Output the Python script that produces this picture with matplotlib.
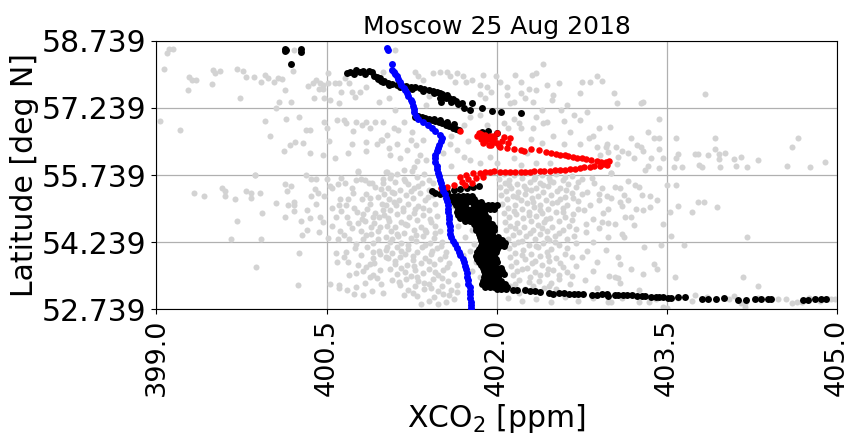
import matplotlib
matplotlib.use("Agg")
import matplotlib.pyplot as plt
import numpy as np

# ---- data ----
title = "Moscow 25 Aug 2018"
x_ticks = [399.0, 400.5, 402.0, 403.5, 405.0]
y_ticks = [52.739, 54.239, 55.739, 57.239, 58.739]

# all soundings in the region (grey)
gray_points = [
    # top left
    (399.11, 58.55), (399.15, 58.55), (399.09, 58.46), (399.07, 58.11), (399.29, 57.92),
    (399.35, 57.86), (399.31, 57.86), (399.28, 57.64), (399.49, 57.77), (399.50, 58.08),
    (399.52, 58.01), (399.56, 58.07), (399.71, 58.10), (399.76, 58.07), (399.79, 57.92),
    (399.86, 57.92), (399.92, 57.82), (399.96, 57.97), (399.98, 57.90), (400.04, 57.82),
    (400.07, 57.90), (400.11, 57.88), (400.13, 57.64), (400.20, 58.06), (400.21, 58.53),
    (399.74, 57.47), (400.08, 57.38), (400.19, 57.38), (400.05, 57.23), (400.34, 57.73),
    (400.38, 57.80), (400.41, 57.86), (400.44, 57.80), (400.43, 57.65), (400.47, 57.75),
    (400.47, 57.67), (400.51, 58.01), (400.51, 57.79), (400.53, 57.41), (400.39, 57.45),
    (400.48, 57.47), (400.57, 57.79), (400.61, 57.80), (400.61, 57.35), (400.63, 57.60),
    (400.66, 57.90), (400.70, 57.79), (400.75, 57.49), (400.79, 57.60), (400.72, 57.60),
    (400.85, 57.71), (400.96, 57.36), (399.03, 56.94), (399.21, 56.74), (399.96, 56.94),
    (400.00, 56.60), (400.14, 57.00), (400.26, 57.03), (400.32, 56.74), (400.35, 56.74),
    (400.29, 56.46), (400.22, 56.47), (400.18, 56.41), (400.12, 56.27), (400.35, 56.24),
    (400.48, 56.93), (400.50, 56.78), (400.52, 56.50), (400.47, 56.18), (400.57, 56.11),
    (400.59, 56.97), (400.65, 56.97), (400.67, 56.91), (400.76, 56.93), (400.81, 56.86),
    (400.85, 56.93), (400.93, 56.93), (400.73, 56.73), (400.88, 56.78), (400.72, 56.44),
    (400.69, 56.24), (400.85, 56.47), (400.94, 56.44), (400.98, 56.52), (400.85, 56.27),
    (400.78, 55.83), (399.87, 55.75),
    # top middle
    (401.10, 58.53), (401.00, 58.05), (401.28, 58.05), (401.31, 57.94), (401.35, 57.86),
    (401.44, 58.01), (401.50, 58.05), (401.56, 58.05), (401.59, 57.94), (401.65, 58.01),
    (401.63, 57.82), (401.73, 57.82), (401.78, 57.86), (401.85, 57.75), (401.91, 57.71),
    (401.88, 57.97), (401.99, 57.94), (402.03, 57.82), (402.09, 57.71), (402.16, 57.97),
    (402.21, 57.82), (402.31, 57.97), (402.35, 58.01), (402.41, 58.22), (402.28, 57.67),
    (402.35, 57.64), (402.44, 57.75), (402.50, 57.53), (402.49, 57.41), (402.32, 57.38),
    (402.15, 57.38), (402.21, 57.56), (402.09, 57.53), (402.12, 57.34), (402.73, 57.56),
    (402.75, 57.82), (402.82, 57.82), (402.93, 57.85), (402.88, 57.95), (402.57, 57.19),
    (402.68, 57.08), (402.73, 56.97), (402.59, 56.95), (402.44, 56.93), (402.35, 57.04),
    (402.32, 56.78), (402.15, 57.00), (402.21, 56.78), (402.06, 56.89), (401.91, 56.86),
    (401.85, 57.08), (401.76, 57.04), (401.71, 56.86), (401.00, 56.93), (401.09, 56.80),
    (401.13, 56.74), (401.18, 56.93), (401.03, 56.63), (400.99, 56.52), (401.12, 56.44),
    (401.24, 56.52), (401.29, 56.41), (401.35, 56.52), (401.21, 56.30), (401.06, 56.18),
    (401.15, 56.11), (401.32, 56.18), (401.38, 56.07), (401.27, 55.92), (401.18, 55.85),
    (401.03, 55.81), (401.53, 56.22), (401.59, 56.44), (401.65, 56.30), (401.71, 56.15),
    (401.76, 56.07), (401.85, 56.00), (401.94, 56.15), (402.00, 56.00), (402.15, 56.11),
    (402.21, 55.96), (402.27, 56.22), (402.35, 56.00), (402.47, 56.00), (402.59, 56.44),
    (402.73, 56.44), (402.81, 56.56), (402.88, 56.37), (402.91, 56.18), (402.97, 56.44),
    (402.56, 55.85), (402.41, 56.89),
    (401.70, 57.95), (401.95, 57.60), (402.25, 57.45), (402.55, 57.80), (402.62, 57.30),
    (402.40, 57.20), (401.90, 57.45), (402.80, 57.15), (402.90, 56.80), (402.65, 56.70),
    (402.50, 56.60), (402.30, 56.55), (402.10, 56.80), (401.75, 56.50), (401.60, 56.60),
    (401.25, 56.70), (401.05, 56.35), (401.30, 56.05), (401.60, 55.95), (402.40, 56.45),
    (402.85, 56.62), (402.98, 56.25), (402.20, 56.90), (401.85, 57.55), (401.40, 57.50),
    (401.38, 57.30), (401.10, 57.20), (401.05, 57.45),
    # top right
    (403.03, 57.58), (403.06, 57.34), (403.27, 57.34), (403.29, 57.37), (403.84, 57.55),
    (403.43, 56.98), (403.00, 56.81), (403.33, 56.69), (403.18, 56.56), (403.39, 56.56),
    (403.43, 56.56), (403.58, 56.56), (403.92, 56.56), (404.66, 56.56), (404.60, 56.36),
    (404.89, 56.03), (404.76, 55.92), (404.56, 55.94), (402.96, 56.37), (403.05, 56.36),
    (403.10, 56.28), (403.16, 56.22), (403.21, 56.13), (403.24, 56.41), (403.27, 56.37),
    (403.29, 56.27), (403.43, 56.31), (403.36, 56.11), (403.47, 56.13), (403.07, 56.15),
    (403.06, 55.98), (403.33, 55.94), (403.31, 55.86), (403.43, 55.89), (403.01, 55.79),
    (403.56, 55.92), (403.58, 56.11), (403.60, 56.21), (403.63, 55.91), (403.75, 56.21),
    (403.77, 56.21), (403.78, 55.96), (403.81, 55.92), (403.86, 56.18), (403.92, 56.33),
    (403.96, 56.20), (403.96, 56.09), (404.01, 56.22), (403.97, 55.92), (404.09, 56.09),
    (404.15, 56.15), (404.11, 55.95), (404.21, 55.92), (404.30, 56.07),
    # lower left
    (399.33, 55.33), (399.42, 55.27), (399.58, 55.46), (399.60, 55.39), (399.60, 55.27),
    (399.69, 55.20), (399.79, 55.38), (399.83, 55.33), (399.83, 55.22), (399.91, 55.33),
    (399.87, 55.73), (399.71, 54.72), (399.93, 54.88), (399.66, 54.30), (399.92, 54.30),
    (399.88, 53.68), (400.13, 55.54), (400.19, 55.49), (400.15, 55.39), (400.05, 55.11),
    (400.16, 55.07), (400.21, 55.14), (400.21, 55.07), (400.21, 54.94), (400.13, 54.81),
    (400.27, 54.71), (400.33, 54.96), (400.35, 54.77), (400.33, 54.51), (400.28, 54.40),
    (400.32, 55.73), (400.36, 55.64), (400.41, 55.64), (400.40, 55.42), (400.42, 55.33),
    (400.36, 55.26), (400.41, 55.09), (400.48, 55.27), (400.44, 54.79), (400.47, 54.70),
    (400.43, 54.47), (400.51, 54.34), (400.50, 55.64), (400.53, 55.49), (400.60, 55.53),
    (400.63, 55.67), (400.62, 55.20), (400.61, 55.08), (400.67, 55.08), (400.58, 54.81),
    (400.70, 54.67), (400.68, 54.79), (400.60, 54.32), (400.65, 54.40), (400.73, 55.33),
    (400.77, 54.92), (400.78, 54.67), (400.81, 54.75), (400.84, 54.72), (400.76, 54.20),
    (400.76, 55.63), (400.80, 55.64), (400.84, 55.63), (400.87, 55.55), (400.90, 55.57),
    (400.85, 55.31), (400.88, 55.22), (400.81, 55.20), (400.82, 54.86), (400.88, 55.09),
    (400.91, 54.79), (400.92, 54.66), (400.89, 54.58), (400.85, 54.40), (400.89, 54.43),
    (400.91, 54.21), (400.96, 54.81), (400.97, 54.58), (401.00, 54.96), (400.99, 55.09),
    (400.98, 55.42), (401.00, 55.66), (400.78, 55.81), (400.58, 53.99), (400.67, 54.02),
    (400.59, 53.79), (400.69, 53.80), (400.26, 54.00), (400.25, 53.29), (400.53, 53.30),
    (400.61, 53.28), (400.61, 53.21), (400.68, 53.18), (400.76, 53.23), (400.74, 53.09),
    (400.76, 53.54), (400.88, 53.47), (400.94, 53.43), (400.85, 53.69), (400.88, 53.76),
    (400.91, 53.88), (400.91, 54.03), (400.96, 54.05), (401.02, 53.90), (401.02, 54.06),
    (400.91, 53.51),
    (400.55, 55.45), (400.66, 55.57), (400.72, 55.44), (400.93, 55.47), (400.69, 55.21),
    (400.95, 55.25), (400.74, 55.00), (400.86, 54.98), (400.63, 54.93), (400.55, 55.00),
    (400.93, 54.90), (400.72, 54.55), (400.80, 54.48), (400.95, 54.48), (400.62, 54.48),
    (400.55, 54.60), (400.70, 54.30), (400.82, 54.30), (400.95, 54.30), (400.75, 54.10),
    (400.86, 54.12), (400.97, 53.98), (400.80, 53.95), (400.65, 53.90), (400.92, 53.78),
    (400.78, 53.72), (400.97, 53.62), (400.82, 53.60), (400.70, 53.50), (400.98, 53.30),
    (400.84, 53.33), (400.90, 53.15), (401.00, 53.10), (400.82, 53.05),
    # dense part left of the blue track
    (401.02, 55.80), (401.12, 55.77), (401.25, 55.82), (401.36, 55.76),
    (401.06, 55.68), (401.18, 55.65), (401.30, 55.70), (401.40, 55.63),
    (401.00, 55.55), (401.10, 55.58), (401.22, 55.53), (401.34, 55.57),
    (401.04, 55.44), (401.15, 55.41), (401.27, 55.46), (401.40, 55.40),
    (401.01, 55.31), (401.09, 55.34), (401.20, 55.29), (401.32, 55.33), (401.44, 55.30),
    (401.05, 55.20), (401.14, 55.17), (401.26, 55.22), (401.37, 55.18),
    (401.02, 55.08), (401.11, 55.06), (401.22, 55.10), (401.31, 55.05), (401.46, 55.09),
    (401.06, 54.96), (401.17, 54.93), (401.28, 54.98), (401.40, 54.95),
    (401.01, 54.84), (401.12, 54.86), (401.23, 54.81), (401.35, 54.85), (401.47, 54.82),
    (401.05, 54.72), (401.16, 54.70), (401.30, 54.74), (401.42, 54.69),
    (401.03, 54.60), (401.10, 54.57), (401.21, 54.62), (401.33, 54.58), (401.46, 54.61),
    (401.07, 54.48), (401.18, 54.45), (401.27, 54.50), (401.38, 54.46), (401.50, 54.49),
    (401.02, 54.36), (401.13, 54.38), (401.24, 54.33), (401.35, 54.37), (401.45, 54.34),
    (401.06, 54.24), (401.16, 54.21), (401.29, 54.26), (401.41, 54.22), (401.52, 54.25),
    (401.03, 54.12), (401.12, 54.14), (401.22, 54.09), (401.34, 54.13), (401.47, 54.10),
    (401.08, 54.00), (401.19, 53.97), (401.30, 54.02), (401.42, 53.98), (401.55, 54.01),
    (401.04, 53.88), (401.15, 53.90), (401.26, 53.85), (401.37, 53.89), (401.50, 53.86),
    (401.10, 53.76), (401.21, 53.73), (401.33, 53.78), (401.45, 53.74), (401.58, 53.77),
    (401.06, 53.64), (401.16, 53.66), (401.28, 53.61), (401.40, 53.65), (401.53, 53.62),
    (401.12, 53.52), (401.24, 53.49), (401.35, 53.54), (401.48, 53.50), (401.62, 53.53),
    (401.08, 53.40), (401.20, 53.42), (401.31, 53.37), (401.44, 53.41), (401.57, 53.38),
    (401.15, 53.28), (401.28, 53.25), (401.40, 53.30), (401.52, 53.26), (401.65, 53.29),
    (401.22, 53.16), (401.36, 53.19), (401.48, 53.14), (401.60, 53.17),
    (401.30, 53.04), (401.45, 53.01), (401.58, 53.06), (401.40, 52.92), (401.55, 52.90),
    (401.07, 55.73), (401.19, 55.60), (401.31, 55.49), (401.44, 55.55), (401.08, 55.37),
    (401.24, 55.38), (401.39, 55.25), (401.17, 55.01), (401.09, 55.13), (401.35, 55.00),
    (401.27, 54.88), (401.04, 54.78), (401.41, 54.76), (401.19, 54.65), (401.37, 54.52),
    (401.12, 54.42), (401.29, 54.40), (401.46, 54.44), (401.08, 54.30), (401.22, 54.17),
    (401.37, 54.18), (401.51, 54.15), (401.16, 54.05), (401.43, 54.05), (401.26, 53.93),
    (401.10, 53.82), (401.40, 53.82), (401.54, 53.93), (401.27, 53.70), (401.19, 53.57),
    (401.46, 53.58), (401.56, 53.69), (401.30, 53.45), (401.14, 53.34), (401.52, 53.44),
    (401.36, 53.33), (401.26, 53.11), (401.42, 53.22), (401.53, 53.09), (401.65, 53.12),
    (401.62, 52.97), (401.48, 52.85), (401.33, 52.86), (401.18, 53.05),
    # between blue and black
    (401.62, 55.05), (401.75, 54.95), (401.70, 54.80), (401.66, 54.60), (401.78, 54.52),
    (401.72, 54.35), (401.80, 54.20), (401.76, 54.05), (401.70, 53.95), (401.82, 53.80),
    (401.78, 53.60), (401.85, 53.45), (401.68, 55.20),
    # dense part right of the black track
    (402.06, 55.76), (402.15, 55.73), (402.27, 55.78), (402.40, 55.74), (402.52, 55.77), (402.66, 55.72),
    (402.02, 55.66), (402.11, 55.63), (402.22, 55.68), (402.33, 55.64), (402.46, 55.67), (402.58, 55.62),
    (402.75, 55.66), (402.07, 55.57), (402.18, 55.54), (402.29, 55.59), (402.38, 55.55), (402.50, 55.58),
    (402.63, 55.53), (402.86, 55.57), (402.03, 55.48), (402.13, 55.45), (402.24, 55.50), (402.35, 55.46),
    (402.45, 55.49), (402.56, 55.44), (402.70, 55.47), (402.08, 55.38), (402.19, 55.35), (402.30, 55.40),
    (402.41, 55.36), (402.53, 55.39), (402.66, 55.34), (402.80, 55.37), (402.04, 55.29), (402.14, 55.26),
    (402.25, 55.31), (402.36, 55.27), (402.48, 55.30), (402.60, 55.25), (402.09, 55.20), (402.21, 55.17),
    (402.31, 55.22), (402.43, 55.18), (402.56, 55.21), (402.72, 55.16), (402.90, 55.19), (402.05, 55.10),
    (402.16, 55.07), (402.27, 55.12), (402.38, 55.08), (402.49, 55.11), (402.62, 55.06), (402.10, 55.00),
    (402.22, 54.97), (402.33, 55.02), (402.45, 54.98), (402.58, 55.01), (402.77, 54.96), (402.06, 54.90),
    (402.17, 54.87), (402.28, 54.92), (402.40, 54.88), (402.52, 54.91), (402.67, 54.86), (402.11, 54.80),
    (402.23, 54.77), (402.35, 54.82), (402.47, 54.78), (402.60, 54.81), (402.85, 54.76), (402.07, 54.70),
    (402.18, 54.67), (402.30, 54.72), (402.42, 54.68), (402.55, 54.71), (402.12, 54.60), (402.24, 54.57),
    (402.36, 54.62), (402.49, 54.58), (402.64, 54.61), (402.08, 54.50), (402.20, 54.47), (402.32, 54.52),
    (402.44, 54.48), (402.58, 54.51), (402.79, 54.46), (402.14, 54.40), (402.26, 54.37), (402.38, 54.42),
    (402.51, 54.38), (402.10, 54.30), (402.22, 54.27), (402.34, 54.32), (402.46, 54.28), (402.62, 54.31),
    (402.15, 54.20), (402.28, 54.17), (402.41, 54.22), (402.55, 54.18), (402.70, 54.21), (402.11, 54.10),
    (402.23, 54.07), (402.36, 54.12), (402.48, 54.08), (402.16, 54.00), (402.30, 53.97), (402.44, 54.02),
    (402.60, 53.98), (402.12, 53.90), (402.25, 53.87), (402.38, 53.92), (402.52, 53.88), (402.75, 53.91),
    (402.17, 53.80), (402.31, 53.77), (402.46, 53.82), (402.13, 53.70), (402.27, 53.67), (402.40, 53.72),
    (402.58, 53.68), (402.18, 53.60), (402.34, 53.57), (402.50, 53.62), (402.14, 53.50), (402.29, 53.47),
    (402.44, 53.52), (402.66, 53.48), (402.20, 53.40), (402.37, 53.37), (402.55, 53.42), (402.16, 53.30),
    (402.32, 53.27), (402.48, 53.32), (402.25, 53.20), (402.42, 53.22),
    (402.20, 55.80), (402.34, 55.70), (402.47, 55.60), (402.60, 55.70), (402.72, 55.58), (402.84, 55.68),
    (402.93, 55.45), (402.11, 55.52), (402.26, 55.43), (402.41, 55.52), (402.61, 55.40), (402.75, 55.31),
    (402.90, 55.32), (402.18, 55.25), (402.32, 55.14), (402.53, 55.14), (402.67, 55.22), (402.82, 55.08),
    (402.15, 54.94), (402.38, 54.95), (402.58, 54.92), (402.72, 54.98), (402.94, 54.88), (402.28, 54.84),
    (402.43, 54.75), (402.66, 54.74), (402.79, 54.64), (402.93, 54.70), (402.16, 54.55), (402.40, 54.55),
    (402.55, 54.44), (402.70, 54.54), (402.90, 54.55), (402.29, 54.44), (402.44, 54.33), (402.68, 54.38),
    (402.85, 54.25), (402.19, 54.25), (402.35, 54.16), (402.51, 54.25), (402.62, 54.10), (402.80, 54.05),
    (402.22, 53.95), (402.45, 53.93), (402.66, 53.90), (402.88, 53.80), (402.34, 53.82), (402.56, 53.78),
    (402.70, 53.70), (402.22, 53.65), (402.45, 53.64), (402.62, 53.58), (402.85, 53.60), (402.38, 53.50),
    (402.55, 53.50), (402.78, 53.40), (402.28, 53.36), (402.46, 53.25), (402.65, 53.30), (402.20, 53.10),
    (402.52, 53.20), (402.88, 53.22), (402.12, 53.25),
    # along the bottom
    (402.10, 53.00), (402.35, 52.98), (402.60, 53.01), (402.85, 52.99), (403.10, 53.00), (403.40, 52.97),
    (403.60, 52.99), (403.85, 53.01), (404.05, 52.98), (404.30, 53.00), (404.55, 52.97), (404.75, 53.00),
    (404.92, 52.98), (402.22, 52.92), (402.48, 52.90), (402.72, 52.93), (402.98, 52.91), (403.25, 52.90),
    (403.72, 52.92), (404.15, 52.89), (404.65, 52.91), (404.85, 52.93),
    # lower right
    (403.01, 55.78), (403.04, 55.48), (403.09, 55.44), (403.16, 55.61), (403.22, 55.52), (403.25, 55.48),
    (402.97, 55.26), (403.01, 55.22), (403.09, 55.14), (403.12, 55.29), (403.16, 55.18), (403.28, 55.29),
    (403.35, 55.27), (403.41, 55.18), (403.10, 55.05), (402.98, 54.97), (403.23, 54.97), (403.29, 54.96),
    (403.35, 55.03), (403.13, 54.81), (403.18, 54.81), (402.98, 54.66), (403.04, 54.64), (403.21, 54.62),
    (403.47, 54.64), (403.10, 54.43), (403.12, 54.36), (402.98, 54.36), (403.50, 55.52), (403.58, 55.52),
    (403.60, 55.05), (403.53, 54.92), (403.72, 54.92), (403.77, 55.14), (403.83, 55.13), (403.94, 55.03),
    (404.21, 54.35), (403.54, 54.38), (403.45, 54.17), (403.65, 54.18), (403.30, 54.12), (402.96, 54.06),
    (403.07, 53.91), (403.09, 53.76), (403.18, 53.65), (403.39, 53.74), (403.41, 53.64), (402.99, 53.48),
    (403.04, 53.47), (403.07, 53.43), (403.09, 53.32), (403.29, 53.52), (403.57, 53.47), (404.17, 53.47),
    (404.30, 53.27), (403.25, 53.17), (403.75, 53.06), (404.09, 53.03), (404.19, 52.87), (404.19, 52.80),
    (404.48, 52.98), (404.60, 52.89), (404.69, 52.91), (404.90, 52.98), (404.95, 52.96), (404.98, 52.98),
    (403.47, 52.80), (403.01, 52.91), (403.34, 52.91), (403.50, 52.76),
]

# selected soundings (black)
black_points = [
    (400.13, 58.56), (400.13, 58.50), (400.14, 58.53), (400.27, 58.55), (400.27, 58.49), (400.19, 58.22),
    (400.68, 58.01), (400.71, 58.05), (400.74, 58.00), (400.76, 58.08), (400.79, 58.03), (400.82, 58.06),
    (400.84, 58.00), (400.87, 58.07), (400.90, 58.04), (400.92, 57.95), (400.95, 57.88), (400.98, 57.85),
    (401.01, 57.84), (400.94, 57.92), (400.97, 57.90),
    (401.00, 57.82), (401.04, 57.80), (401.08, 57.78), (401.12, 57.76), (401.16, 57.74), (401.20, 57.73),
    (401.24, 57.71), (401.28, 57.70), (401.32, 57.68), (401.36, 57.66), (401.40, 57.64), (401.44, 57.61),
    (401.47, 57.60), (401.50, 57.58), (401.52, 57.55), (401.50, 57.45), (401.53, 57.50), (401.56, 57.52),
    (401.58, 57.47), (401.61, 57.44), (401.64, 57.40), (401.51, 57.38), (401.69, 57.34), (401.71, 57.23),
    (401.78, 57.34), (401.76, 57.20), (401.87, 57.23), (401.96, 57.18), (402.04, 57.14), (402.21, 57.13),
    (401.05, 57.75), (401.15, 57.70), (401.25, 57.66), (401.35, 57.62), (401.45, 57.57), (401.55, 57.45),
    (401.60, 57.38), (401.66, 57.32),
    (401.28, 57.04), (401.31, 57.05), (401.34, 57.03), (401.37, 57.01), (401.40, 56.99), (401.43, 56.97),
    (401.46, 56.95), (401.49, 56.92), (401.52, 56.89), (401.55, 56.86), (401.58, 56.83), (401.61, 56.80),
    (401.64, 56.77), (401.67, 56.74), (401.45, 57.00), (401.50, 56.97), (401.56, 56.93), (401.62, 56.88),
    (401.87, 56.71), (401.92, 56.72), (402.00, 56.67),
    (401.43, 55.39), (401.46, 55.33), (401.50, 55.32), (401.56, 55.37), (401.62, 55.40), (401.68, 55.42),
    (401.74, 55.44), (401.79, 55.48), (401.84, 55.49),
    (401.58, 55.27), (401.62, 55.27), (401.66, 55.27), (401.70, 55.27), (401.74, 55.27), (401.78, 55.27),
    (401.60, 55.20), (401.64, 55.20), (401.68, 55.20), (401.72, 55.20), (401.76, 55.20), (401.80, 55.20),
    (401.62, 55.13), (401.66, 55.13), (401.70, 55.13), (401.74, 55.13), (401.78, 55.13), (401.82, 55.13),
    (401.86, 55.13),
    (401.64, 55.06), (401.68, 55.06), (401.72, 55.06), (401.80, 55.06), (401.84, 55.06), (401.88, 55.06),
    (401.92, 55.06), (401.96, 55.06), (402.00, 55.06),
    (401.66, 54.99), (401.70, 54.99), (401.74, 54.99), (401.78, 54.99), (401.82, 54.99), (401.86, 54.99),
    (401.90, 54.99), (401.94, 54.99), (401.98, 54.99),
    (401.65, 54.92), (401.69, 54.92), (401.73, 54.92), (401.77, 54.92), (401.81, 54.92), (401.85, 54.92),
    (401.89, 54.92),
    (401.66, 54.85), (401.70, 54.85), (401.74, 54.85), (401.78, 54.85), (401.82, 54.85), (401.86, 54.85),
    (401.90, 54.85),
    (401.68, 54.78), (401.72, 54.78), (401.76, 54.78), (401.80, 54.78), (401.84, 54.78), (401.88, 54.78),
    (401.92, 54.78),
    (401.72, 54.71), (401.76, 54.71), (401.80, 54.71), (401.84, 54.71), (401.88, 54.71), (401.92, 54.71),
    (401.80, 54.64), (401.84, 54.64), (401.88, 54.64), (401.92, 54.64), (401.96, 54.64),
    (401.82, 54.57), (401.86, 54.57), (401.90, 54.57), (401.94, 54.57), (401.98, 54.57),
    (401.82, 54.50), (401.86, 54.50), (401.90, 54.50), (401.94, 54.50), (401.98, 54.50),
    (401.84, 54.43), (401.88, 54.43), (401.92, 54.43), (401.96, 54.43),
    (401.85, 54.36), (401.89, 54.36), (401.93, 54.36), (401.97, 54.36), (402.01, 54.36),
    (401.86, 54.29), (401.90, 54.29), (401.94, 54.29), (401.98, 54.29), (402.02, 54.29), (402.05, 54.29),
    (401.87, 54.22), (401.91, 54.22), (401.95, 54.22), (401.99, 54.22), (402.03, 54.22), (402.07, 54.22),
    (401.86, 54.15), (401.90, 54.15), (401.94, 54.15), (401.98, 54.15), (402.02, 54.15), (402.06, 54.15),
    (401.84, 54.08), (401.88, 54.08), (401.92, 54.08), (401.96, 54.08), (402.00, 54.08),
    (401.83, 54.01), (401.87, 54.01), (401.91, 54.01), (401.95, 54.01), (401.99, 54.01),
    (401.82, 53.94), (401.86, 53.94), (401.90, 53.94), (401.94, 53.94), (401.98, 53.94),
    (401.83, 53.87), (401.87, 53.87), (401.91, 53.87), (401.95, 53.87), (401.99, 53.87),
    (401.84, 53.80), (401.88, 53.80), (401.92, 53.80), (401.96, 53.80), (402.00, 53.80),
    (401.86, 53.73), (401.90, 53.73), (401.94, 53.73), (401.98, 53.73),
    (401.88, 53.66), (401.92, 53.66), (401.96, 53.66), (402.00, 53.66), (402.04, 53.66),
    (401.89, 53.59), (401.93, 53.59), (401.97, 53.59), (402.01, 53.59), (402.05, 53.59),
    (401.90, 53.52), (401.94, 53.52), (401.98, 53.52), (402.02, 53.52), (402.06, 53.52),
    (401.89, 53.45), (401.93, 53.45), (401.97, 53.45), (402.01, 53.45),
    (401.88, 53.38), (401.92, 53.38), (401.96, 53.38), (402.00, 53.38), (402.04, 53.38),
    (401.87, 53.31), (401.91, 53.31), (401.95, 53.31), (401.99, 53.31), (402.03, 53.31), (402.07, 53.31),
    (401.90, 53.24), (401.94, 53.24), (401.98, 53.24), (402.02, 53.24), (402.06, 53.24), (402.09, 53.24),
    (402.00, 53.19), (402.04, 53.19), (402.08, 53.19),
    # tail to the east
    (402.14, 53.18), (402.18, 53.18), (402.25, 53.16), (402.29, 53.15), (402.34, 53.14), (402.38, 53.13),
    (402.46, 53.10), (402.50, 53.09), (402.55, 53.11), (402.59, 53.11), (402.64, 53.09), (402.68, 53.08),
    (402.72, 53.08), (402.76, 53.08), (402.84, 53.06), (402.88, 53.06), (402.93, 53.07), (402.97, 53.07),
    (402.98, 53.03), (403.04, 53.05), (403.07, 53.06), (403.11, 53.06), (403.15, 53.05), (403.19, 53.06),
    (403.24, 53.04), (403.28, 53.03), (403.31, 53.03), (403.36, 53.02), (403.40, 53.02), (403.43, 53.02),
    (403.47, 53.01), (403.51, 53.00), (403.54, 53.00), (403.60, 53.01), (403.66, 53.02), (403.81, 52.98),
    (403.86, 52.98), (403.93, 52.98), (404.00, 52.99), (404.13, 52.94), (404.20, 52.94), (404.28, 52.96),
    (404.33, 52.96), (404.39, 52.97), (404.42, 52.98), (404.70, 52.94), (404.74, 52.94), (404.81, 52.96),
    (404.86, 52.97), (404.90, 52.98),
]

# selected soundings (red)
red_points = [
    (401.83, 56.62), (401.86, 56.66), (401.88, 56.58), (401.90, 56.64), (401.92, 56.55), (401.94, 56.60),
    (401.96, 56.50), (401.98, 56.56), (402.00, 56.45), (401.95, 56.42), (402.02, 56.38), (401.90, 56.50),
    (401.86, 56.55), (401.84, 56.68), (401.68, 56.72), (401.88, 56.45), (401.93, 56.40), (401.97, 56.62),
    (402.05, 56.50), (402.10, 56.45),
    (402.00, 56.67), (402.06, 56.59), (402.12, 56.57), (401.97, 56.48), (402.03, 56.37), (402.09, 56.35),
    (402.15, 56.33), (402.21, 56.30), (402.24, 56.27), (402.30, 56.31), (402.37, 56.30), (402.43, 56.26),
    (402.48, 56.22), (402.52, 56.21), (402.56, 56.18), (402.60, 56.18), (402.63, 56.17), (402.67, 56.14),
    (402.71, 56.12), (402.75, 56.11), (402.79, 56.09), (402.83, 56.08), (402.88, 56.05), (402.92, 56.04),
    (402.96, 56.03), (402.99, 56.05), (402.97, 55.96), (402.94, 55.98), (402.91, 55.95), (402.86, 55.94),
    (402.82, 55.92), (402.77, 55.91), (402.73, 55.90), (402.69, 55.88), (402.65, 55.87), (402.60, 55.86),
    (402.56, 55.85), (402.51, 55.84), (402.47, 55.83), (402.42, 55.83), (402.38, 55.83), (402.33, 55.82),
    (402.29, 55.81), (402.25, 55.81), (402.21, 55.81), (402.16, 55.81), (402.12, 55.81), (402.07, 55.81),
    (402.03, 55.81), (401.98, 55.82), (401.94, 55.81), (401.90, 55.80), (401.85, 55.79), (401.79, 55.78),
    (401.73, 55.74), (401.68, 55.70), (401.69, 55.59), (401.75, 55.64), (401.82, 55.67), (401.88, 55.70),
    (401.72, 55.52), (401.78, 55.55), (401.62, 55.52), (401.56, 55.48), (401.51, 55.44),
]

# model track (blue)
blue_points = [
    (401.03, 58.58), (401.04, 58.53), (401.08, 58.22), (401.08, 58.08), (401.09, 58.03), (401.10, 57.99),
    (401.12, 57.94), (401.13, 57.89), (401.15, 57.82), (401.16, 57.76), (401.18, 57.69), (401.19, 57.64),
    (401.21, 57.57), (401.22, 57.50), (401.24, 57.42), (401.25, 57.36), (401.26, 57.29), (401.27, 57.21),
    (401.27, 57.14), (401.29, 57.06), (401.31, 56.98), (401.35, 56.92), (401.39, 56.86), (401.43, 56.79),
    (401.46, 56.72), (401.50, 56.64), (401.52, 56.57), (401.51, 56.50), (401.49, 56.42), (401.48, 56.35),
    (401.47, 56.27), (401.46, 56.19), (401.46, 56.11), (401.46, 56.03), (401.47, 55.95), (401.47, 55.87),
    (401.48, 55.79), (401.49, 55.71), (401.50, 55.63), (401.51, 55.55), (401.52, 55.47), (401.53, 55.39),
    (401.54, 55.31), (401.55, 55.23), (401.56, 55.15), (401.57, 55.07), (401.57, 54.99), (401.57, 54.91),
    (401.58, 54.83), (401.58, 54.75), (401.58, 54.67), (401.59, 54.59), (401.59, 54.51), (401.59, 54.43),
    (401.60, 54.35), (401.61, 54.27), (401.63, 54.19), (401.65, 54.11), (401.67, 54.03), (401.68, 53.95),
    (401.70, 53.87), (401.71, 53.79), (401.72, 53.71), (401.73, 53.63), (401.74, 53.55), (401.74, 53.47),
    (401.75, 53.39), (401.75, 53.31), (401.76, 53.23), (401.76, 53.15), (401.76, 53.07), (401.76, 52.99),
    (401.77, 52.91), (401.77, 52.83), (401.77, 52.76),
]

gray = np.array(gray_points)
black = np.array(black_points)
red = np.array(red_points)
blue = np.array(blue_points)

fig = plt.figure(figsize=(8.49, 4.34), dpi=100)
ax = fig.add_axes([0.1843, 0.2873, 0.8016, 0.6189])

ax.scatter(gray[:, 0], gray[:, 1], s=19, color="lightgray", linewidths=0, zorder=2)
ax.scatter(black[:, 0], black[:, 1], s=25, color="black", linewidths=0, zorder=3)
ax.scatter(red[:, 0], red[:, 1], s=22, color="red", linewidths=0, zorder=4)
ax.scatter(blue[:, 0], blue[:, 1], s=25, color="blue", linewidths=0, zorder=5)

ax.set_xlim(x_ticks[0], x_ticks[-1])
ax.set_ylim(y_ticks[0], y_ticks[-1])
ax.set_xticks(x_ticks)
ax.set_xticklabels([f"{v:.1f}" for v in x_ticks], rotation=90)
ax.set_yticks(y_ticks)
ax.set_yticklabels([f"{v:.3f}" for v in y_ticks])
ax.tick_params(axis="x", labelsize=19.5)
ax.tick_params(axis="y", labelsize=21.5)
ax.grid(True, color="#b0b0b0", linewidth=0.9, zorder=1)
ax.set_axisbelow(True)

ax.set_title(title, fontsize=18, pad=5)
ax.set_xlabel(r"XCO$_2$ [ppm]", fontsize=21.5, labelpad=4)
ax.set_ylabel("Latitude [deg N]", fontsize=21.5, labelpad=2)

fig.savefig("out.png", dpi=100)
